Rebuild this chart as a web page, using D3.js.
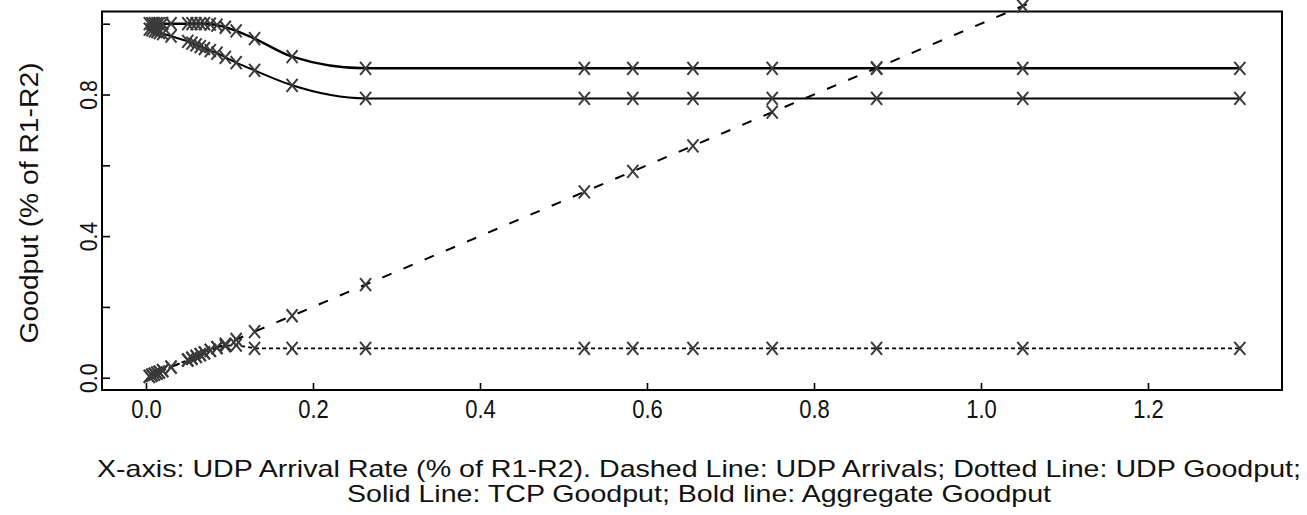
<!DOCTYPE html>
<html>
<head>
<meta charset="utf-8">
<script src="https://cdn.jsdelivr.net/npm/d3@7/dist/d3.min.js"></script>
<style>
  body { margin: 0; background: #fff; }
  svg { display: block; }
  text { font-family: "Liberation Sans", Arial, sans-serif; fill: #111; }
</style>
</head>
<body>
<svg id="chart" width="1307" height="515"></svg>
<script>
// UDP arrival rate (% of R1-R2), one value per simulation run
var rates = [0.004, 0.007, 0.010, 0.013, 0.016, 0.020, 0.030, 0.050, 0.055, 0.060, 0.065,
             0.070, 0.077, 0.085, 0.095, 0.108, 0.130, 0.175, 0.263, 0.525, 0.583, 0.655,
             0.750, 0.875, 1.050, 1.310];
// dashed: UDP arrivals
var udpArrivals = [0.004, 0.007, 0.010, 0.013, 0.016, 0.020, 0.030, 0.050, 0.055, 0.060, 0.065,
                   0.070, 0.077, 0.085, 0.095, 0.108, 0.130, 0.175, 0.263, 0.525, 0.583, 0.655,
                   0.750, 0.875, 1.050, 1.310];
// dotted: UDP goodput
var udpGoodput = [0.004, 0.007, 0.010, 0.013, 0.016, 0.020, 0.030, 0.050, 0.055, 0.060, 0.065,
                  0.070, 0.077, 0.085, 0.090, 0.092, 0.083, 0.083, 0.083, 0.083, 0.083, 0.083,
                  0.083, 0.083, 0.083, 0.083];
// solid: TCP goodput
var tcpGoodput = [0.985, 0.983, 0.980, 0.978, 0.975, 0.972, 0.965, 0.950, 0.945, 0.940, 0.935,
                  0.930, 0.924, 0.917, 0.905, 0.890, 0.868, 0.826, 0.789, 0.789, 0.789, 0.789,
                  0.789, 0.789, 0.789, 0.789];
// bold: aggregate goodput
var aggGoodput = [1.000, 1.000, 1.000, 1.000, 1.000, 1.000, 1.000, 1.000, 1.000, 1.000, 1.000,
                  1.000, 0.999, 0.996, 0.990, 0.980, 0.958, 0.907, 0.874, 0.874, 0.874, 0.874,
                  0.874, 0.874, 0.874, 0.874];

var xTicks = [0, 0.2, 0.4, 0.6, 0.8, 1.0, 1.2];
var yTicks = [0, 0.2, 0.4, 0.6, 0.8, 1.0];
var yLabelled = [0, 0.4, 0.8];

var svg = d3.select("#chart");
var margin = {left: 102, top: 11.5, right: 25, bottom: 125};
var W = 1307, H = 515;

var x = d3.scaleLinear().domain([-0.0527, 1.3605]).range([margin.left, W - margin.right]);
var y = d3.scaleLinear().domain([-0.0347, 1.0345]).range([H - margin.bottom, margin.top]);

// frame
svg.append("rect")
  .attr("x", x.range()[0]).attr("y", y.range()[1])
  .attr("width", x.range()[1] - x.range()[0])
  .attr("height", y.range()[0] - y.range()[1])
  .attr("fill", "none").attr("stroke", "#000").attr("stroke-width", 2);

// inward ticks
var xAxis = svg.append("g")
  .attr("transform", "translate(0," + y.range()[0] + ")")
  .call(d3.axisBottom(x).tickValues(xTicks).tickSizeInner(-7).tickSizeOuter(0)
        .tickFormat(d3.format(".1f")));
xAxis.select(".domain").remove();
xAxis.selectAll("line").attr("stroke", "#000").attr("stroke-width", 1.6);
xAxis.selectAll("text").attr("x", 0).attr("y", 0).attr("dy", 0)
  .attr("transform", "translate(0,28) scale(0.88,1)")
  .style("font-size", "25px").style("font-family", "Liberation Sans, Arial, sans-serif")
  .attr("fill", "#222");

var yAxis = svg.append("g")
  .attr("transform", "translate(" + x.range()[0] + ",0)")
  .call(d3.axisLeft(y).tickValues(yTicks).tickSizeInner(-8).tickSizeOuter(0)
        .tickFormat(function(d) { return yLabelled.indexOf(d) >= 0 ? d3.format(".1f")(d) : ""; }));
yAxis.select(".domain").remove();
yAxis.selectAll("line").attr("stroke", "#000").attr("stroke-width", 1.6);
yAxis.selectAll("text")
  .attr("x", null).attr("dy", null)
  .attr("text-anchor", "middle")
  .attr("transform", "translate(-5,0) rotate(-90) scale(0.88,1)")
  .attr("y", 0)
  .style("font-size", "24px").style("font-family", "Liberation Sans, Arial, sans-serif")
  .attr("fill", "#222");

// series
var rows = rates.map(function(r, i) {
  return {x: r, arr: udpArrivals[i], udp: udpGoodput[i], tcp: tcpGoodput[i], agg: aggGoodput[i]};
});

function lineFor(key, curve) {
  return d3.line().x(function(d) { return x(d.x); })
    .y(function(d) { return y(d[key]); }).curve(curve || d3.curveLinear);
}

var series = [
  {key: "agg", width: 2.4, dash: null, curve: d3.curveMonotoneX},
  {key: "tcp", width: 2, dash: null, curve: d3.curveMonotoneX},
  {key: "udp", width: 1.8, dash: "4,3", curve: d3.curveLinear},
  {key: "arr", width: 2, dash: "10,13", curve: d3.curveLinear}
];

series.forEach(function(s) {
  svg.append("path")
    .datum(rows)
    .attr("d", lineFor(s.key, s.curve))
    .attr("fill", "none")
    .attr("stroke", "#000")
    .attr("stroke-width", s.width)
    .attr("stroke-dasharray", s.dash);

  svg.append("g").selectAll("path")
    .data(rows)
    .enter().append("path")
    .attr("transform", function(d) { return "translate(" + x(d.x) + "," + y(d[s.key]) + ")"; })
    .attr("d", "M-5.5,-6.5L5.5,6.5M5.5,-6.5L-5.5,6.5")
    .attr("fill", "none")
    .attr("stroke", "#3a3a3a")
    .attr("stroke-width", 2);
});

// axis title
svg.append("text")
  .attr("transform", "translate(38,203) rotate(-90)")
  .attr("text-anchor", "middle")
  .attr("textLength", 281).attr("lengthAdjust", "spacingAndGlyphs")
  .style("font-size", "26px")
  .attr("fill", "#333")
  .text("Goodput (% of R1-R2)");

// caption
var caption = [
  "X-axis: UDP Arrival Rate (% of R1-R2).  Dashed Line: UDP Arrivals; Dotted Line: UDP Goodput;",
  "Solid Line: TCP Goodput; Bold line: Aggregate Goodput"
];
var capLen = [1204, 704];
caption.forEach(function(t, i) {
  svg.append("text")
    .attr("x", 699).attr("y", 477 + i * 25)
    .attr("text-anchor", "middle")
    .attr("textLength", capLen[i]).attr("lengthAdjust", "spacingAndGlyphs")
    .style("font-size", "24px")
    .attr("fill", "#222")
    .text(t);
});
</script>
</body>
</html>
